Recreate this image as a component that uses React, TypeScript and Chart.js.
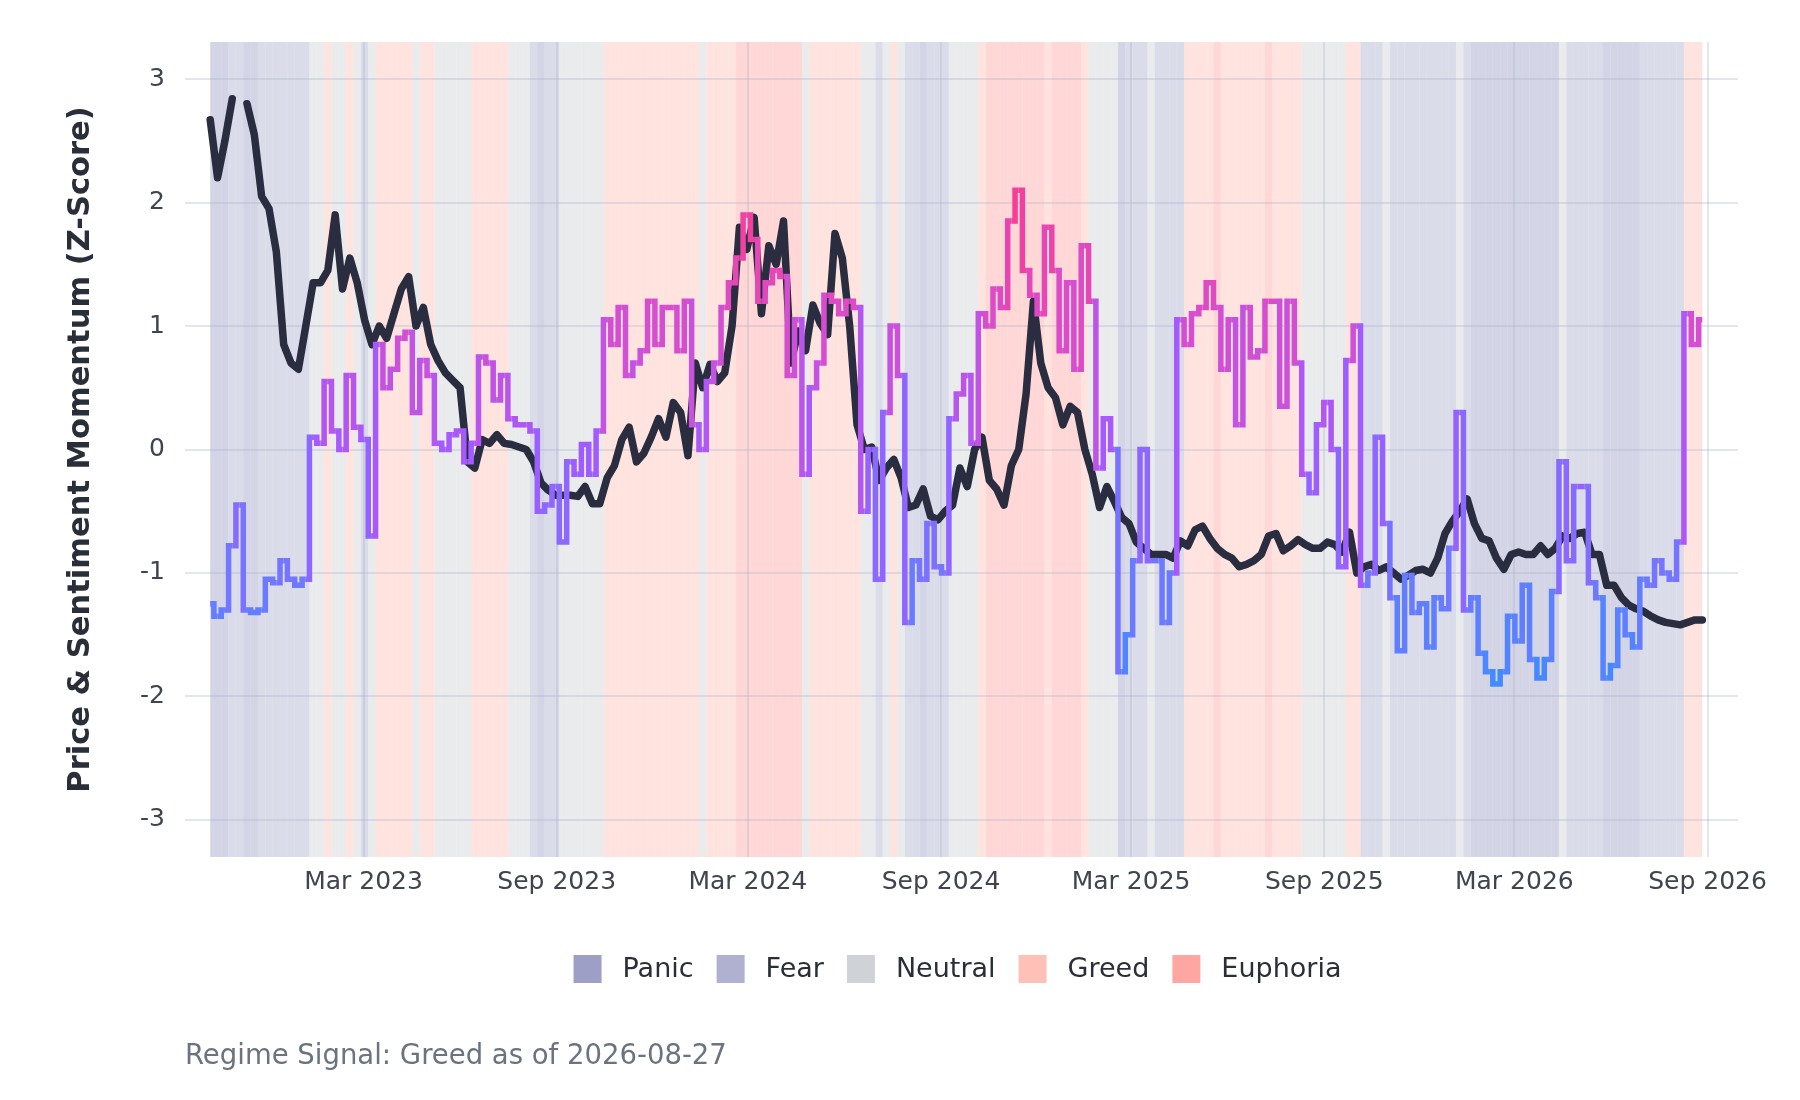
import React, { useEffect, useRef } from "react";
import { Chart, registerables } from "chart.js";

Chart.register(...registerables);

// weekly observations, the first one is on START_DATE
const START_DATE = "2022-10-06";
const STEP_DAYS = 7;
const AS_OF = "2026-08-27";
const CURRENT_REGIME = "Greed";

// price momentum z-score (null = missing data)
const priceMomentum: (number | null)[] = [
  2.67, 2.2, 2.5, 2.84, null, 2.8, 2.55, 2.05, 1.95, 1.6,
  0.85, 0.7, 0.65, 1.0, 1.35, 1.35, 1.45, 1.9, 1.3, 1.55,
  1.35, 1.05, 0.85, 1.0, 0.9, 1.1, 1.3, 1.4, 1.0, 1.15,
  0.85, 0.72, 0.62, 0.56, 0.5, -0.1, -0.15, 0.08, 0.05, 0.12,
  0.05, 0.04, 0.02, 0.0, -0.1, -0.27, -0.33, -0.37, -0.37, -0.37,
  -0.38, -0.3, -0.44, -0.44, -0.23, -0.13, 0.08, 0.18, -0.1, -0.03,
  0.1, 0.25, 0.1, 0.38, 0.3, -0.05, 0.7, 0.5, 0.69, 0.55,
  0.62, 1.0, 1.8, 1.62, 1.88, 1.1, 1.65, 1.5, 1.85, 0.7,
  0.96, 0.8, 1.17, 1.02, 0.93, 1.75, 1.55, 1.0, 0.2, 0.0,
  0.02, -0.25, -0.15, -0.08, -0.23, -0.47, -0.45, -0.32, -0.54, -0.57,
  -0.5, -0.45, -0.15, -0.3, 0.0, 0.1, -0.25, -0.32, -0.45, -0.13,
  0.0, 0.45, 1.2, 0.7, 0.5, 0.42, 0.2, 0.35, 0.3, 0.0,
  -0.2, -0.47, -0.3, -0.42, -0.55, -0.6, -0.75, -0.8, -0.85, -0.85,
  -0.85, -0.88, -0.74, -0.78, -0.65, -0.62, -0.72, -0.8, -0.85, -0.88,
  -0.95, -0.93, -0.9, -0.85, -0.7, -0.68, -0.82, -0.78, -0.73, -0.77,
  -0.8, -0.8, -0.75, -0.77, -0.83, -0.67, -1.0, -0.95, -0.93, -0.98,
  -0.95, -1.0, -1.05, -1.02, -0.98, -0.97, -1.0, -0.88, -0.68, -0.58,
  -0.5, -0.4, -0.6, -0.72, -0.74, -0.88, -0.97, -0.85, -0.83, -0.85,
  -0.85, -0.78, -0.85, -0.8, -0.7, -0.72, -0.68, -0.67, -0.85, -0.85,
  -1.1, -1.1, -1.2, -1.26, -1.29, -1.31, -1.35, -1.38, -1.4, -1.41,
  -1.42, -1.4, -1.38, -1.38,
];

// sentiment momentum z-score
const sentimentMomentum: number[] = [
  -1.25, -1.35, -1.3, -0.78, -0.45, -1.3, -1.32, -1.3, -1.05, -1.08,
  -0.9, -1.05, -1.1, -1.05, 0.1, 0.05, 0.55, 0.15, 0.0, 0.6,
  0.18, 0.08, -0.7, 0.85, 0.5, 0.65, 0.9, 0.95, 0.3, 0.72,
  0.6, 0.05, 0.0, 0.12, 0.15, -0.1, 0.05, 0.75, 0.7, 0.4,
  0.6, 0.25, 0.2, 0.2, 0.15, -0.5, -0.45, -0.3, -0.75, -0.1,
  -0.2, 0.04, -0.2, 0.15, 1.05, 0.85, 1.15, 0.6, 0.7, 0.8,
  1.2, 0.85, 1.15, 1.15, 0.8, 1.2, 0.2, 0.0, 0.55, 0.7,
  1.15, 1.35, 1.55, 1.9, 1.7, 1.2, 1.35, 1.45, 1.4, 0.6,
  1.05, -0.2, 0.5, 0.7, 1.25, 1.2, 1.1, 1.2, 1.15, -0.5,
  0.0, -1.05, 0.3, 1.0, 0.6, -1.4, -0.9, -1.05, -0.6, -0.95,
  -1.0, 0.25, 0.45, 0.6, 0.05, 1.1, 1.0, 1.3, 1.15, 1.85,
  2.1, 1.45, 1.25, 1.1, 1.8, 1.45, 0.8, 1.35, 0.65, 1.65,
  1.2, -0.15, 0.25, 0.0, -1.8, -1.5, -0.9, 0.0, -0.9, -0.9,
  -1.4, -1.0, 1.05, 0.85, 1.1, 1.15, 1.35, 1.15, 0.65, 1.05,
  0.2, 1.15, 0.75, 0.8, 1.2, 1.2, 0.35, 1.2, 0.7, -0.2,
  -0.35, 0.2, 0.38, 0.0, -0.95, 0.72, 1.0, -1.1, -1.0, 0.1,
  -0.6, -1.2, -1.63, -1.02, -1.32, -1.25, -1.6, -1.2, -1.29, -0.8,
  0.3, -1.3, -1.2, -1.65, -1.8, -1.9, -1.8, -1.35, -1.55, -1.1,
  -1.7, -1.85, -1.7, -1.15, -0.1, -0.9, -0.3, -0.3, -1.08, -1.2,
  -1.85, -1.75, -1.3, -1.5, -1.6, -1.05, -1.1, -0.9, -1.0, -1.05,
  -0.75, 1.1, 0.85, 1.05,
];

// weekly regime: P=Panic F=Fear N=Neutral G=Greed E=Euphoria
const regimeCodes: string[] = [
  "PPPFFPPFFF", "FFFFNNGNNG", "NFNGGGGGNG", "GNNNNNGGGG", "GNNNFPFFNN",
  "NNNNGGGGGG", "GGGGGGGNGG", "GGEEEEEEEE", "ENGGGGGGGN", "NFNGNFFPFF",
  "FNNNNGEEEE", "EEEEGEEEEG", "NNNNPFFFNF", "FFFGGGGEGG", "GGGGEGGGGN",
  "NNNNNGGFFF", "NFFFFFFFFF", "NFPPPPPPPP", "PPPPNFFFFF", "PPPPPFFFFF",
  "FGGG",
].join("").split("");

const regimeKeys = ["P", "F", "N", "G", "E"];
const regimeNames = ["Panic", "Fear", "Neutral", "Greed", "Euphoria"];
const regimeColors = ["#9e9fc6", "#b0b1d1", "#cfd3d8", "#ffc1b7", "#ffa6a3"];

const tickDates = [
  "2023-03-01", "2023-09-01", "2024-03-01", "2024-09-01",
  "2025-03-01", "2025-09-01", "2026-03-01", "2026-09-01",
];
const monthNames = ["Jan", "Feb", "Mar", "Apr", "May", "Jun", "Jul", "Aug", "Sep", "Oct", "Nov", "Dec"];

// sentiment colour scale
const sentimentStops: [number, string][] = [
  [-2.2, "#2f92ff"],
  [-1.1, "#6f79ff"],
  [0, "#a35aff"],
  [1.0, "#d64ed0"],
  [2.2, "#ff3a88"],
];

const FONT = "'DejaVu Sans', sans-serif";
const DAY_MS = 86400000;
const toDay = (iso: string) => Date.parse(iso + "T00:00:00Z") / DAY_MS;

const startDay = toDay(START_DATE);
const days = priceMomentum.map((_, i) => startDay + i * STEP_DAYS);
const tickDays = tickDates.map(toDay);

const hexRgb = (h: string) => [1, 3, 5].map((i) => parseInt(h.slice(i, i + 2), 16));
const rgba = (h: string, a: number) => `rgba(${hexRgb(h).join(",")},${a})`;

function sentimentColor(v: number) {
  const s = sentimentStops;
  if (v <= s[0][0]) return s[0][1];
  if (v >= s[s.length - 1][0]) return s[s.length - 1][1];
  for (let i = 0; i < s.length - 1; i++) {
    const [v0, c0] = s[i];
    const [v1, c1] = s[i + 1];
    if (v >= v0 && v <= v1) {
      const t = (v - v0) / (v1 - v0);
      const a = hexRgb(c0);
      const b = hexRgb(c1);
      const m = a.map((x, k) => Math.round(x + (b[k] - x) * t));
      return `rgb(${m.join(",")})`;
    }
  }
  return s[2][1];
}

function dayLabel(v: number) {
  const d = new Date(v * DAY_MS);
  return `${monthNames[d.getUTCMonth()]} ${d.getUTCFullYear()}`;
}

// regime background bands, drawn under the grid
const regimeBands = {
  id: "regimeBands",
  beforeDraw(chart: any) {
    const { ctx, chartArea, scales } = chart;
    const x = scales.x;
    const first = days[0];
    const last = days[days.length - 1];
    ctx.save();
    regimeCodes.forEach((code, i) => {
      const k = regimeKeys.indexOf(code);
      const a = x.getPixelForValue(Math.max(first, days[i] - STEP_DAYS / 2));
      const b = x.getPixelForValue(Math.min(last, days[i] + STEP_DAYS / 2));
      ctx.fillStyle = rgba(regimeColors[k], 0.45);
      ctx.fillRect(a, chartArea.top, b - a, chartArea.bottom - chartArea.top);
    });
    ctx.restore();
  },
};

// legend row + caption under the axis
const footer = {
  id: "footer",
  afterDraw(chart: any) {
    const { ctx, chartArea } = chart;
    ctx.save();
    ctx.font = `27px ${FONT}`;
    ctx.textBaseline = "middle";
    const box = 28;
    const gap = 21;
    const sep = 23;
    const widths = regimeNames.map((n) => ctx.measureText(n).width);
    const total = widths.reduce((s, w) => s + box + gap + w, 0) + sep * (regimeNames.length - 1);
    let cx = (chartArea.left + chartArea.right) / 2 - total / 2 - 4;
    const cy = chartArea.bottom + 112;
    regimeNames.forEach((name, i) => {
      ctx.fillStyle = regimeColors[i];
      ctx.fillRect(cx, cy - box / 2, box, box);
      ctx.fillStyle = "#2a2e39";
      ctx.textAlign = "left";
      ctx.fillText(name, cx + box + gap, cy + 1);
      cx += box + gap + widths[i] + sep;
    });
    ctx.font = `27.5px ${FONT}`;
    ctx.fillStyle = "#6b7280";
    ctx.fillText(`Regime Signal: ${CURRENT_REGIME} as of ${AS_OF}`, chartArea.left, chartArea.bottom + 200);
    ctx.restore();
  },
};

export default function App() {
  const canvasRef = useRef<HTMLCanvasElement>(null);

  useEffect(() => {
    document.body.style.margin = "0";
    if (!canvasRef.current) return;

    const grid = { color: "rgba(170,176,200,0.32)", lineWidth: 2, drawTicks: false };

    const chart = new Chart(canvasRef.current, {
      type: "line",
      data: {
        datasets: [
          {
            label: "Sentiment Momentum",
            data: sentimentMomentum.map((v, i) => ({ x: days[i], y: v })),
            borderColor: "#a35aff",
            borderWidth: 5.5,
            stepped: "middle",
            pointRadius: 0,
            order: 0,
            segment: {
              borderColor: (c: any) => sentimentColor((c.p0.parsed.y + c.p1.parsed.y) / 2),
            },
          },
          {
            label: "Price Momentum",
            data: priceMomentum.map((v, i) => ({ x: days[i], y: v })),
            borderColor: "#2a2c3f",
            borderWidth: 7.5,
            borderJoinStyle: "round",
            borderCapStyle: "round",
            pointRadius: 0,
            spanGaps: false,
            order: 1,
          },
        ],
      },
      options: {
        responsive: true,
        maintainAspectRatio: false,
        animation: false,
        layout: { padding: { left: 0, right: 62, top: 42, bottom: 183 } },
        plugins: { legend: { display: false }, tooltip: { enabled: false } },
        scales: {
          x: {
            type: "linear",
            min: toDay("2022-09-12"),
            max: toDay("2026-09-30"),
            grid,
            border: { display: false },
            afterBuildTicks: (axis: any) => {
              axis.ticks = tickDays.map((v) => ({ value: v }));
            },
            afterFit: (axis: any) => {
              axis.height = 60;
            },
            ticks: {
              autoSkip: false,
              maxRotation: 0,
              padding: 10,
              color: "#3f4450",
              font: { family: FONT, size: 25 },
              callback: (v: any) => dayLabel(Number(v)),
            },
          },
          y: {
            min: -3.3,
            max: 3.3,
            grid,
            border: { display: false },
            afterBuildTicks: (axis: any) => {
              axis.ticks = [-3, -2, -1, 0, 1, 2, 3].map((v) => ({ value: v }));
            },
            afterFit: (axis: any) => {
              axis.width = 185;
            },
            ticks: {
              padding: 20,
              color: "#3f4450",
              font: { family: FONT, size: 25 },
              callback: (v: any) => String(v),
            },
            title: {
              display: true,
              text: "Price & Sentiment Momentum (Z-Score)",
              color: "#2a2e39",
              font: { family: FONT, size: 30.5, weight: "bold" },
              padding: { top: 63, bottom: 0 },
            },
          },
        },
      },
      plugins: [regimeBands, footer],
    } as any);

    return () => chart.destroy();
  }, []);

  return (
    <div style={{ position: "relative", width: 1800, height: 1100, background: "#ffffff" }}>
      <canvas ref={canvasRef} />
    </div>
  );
}
